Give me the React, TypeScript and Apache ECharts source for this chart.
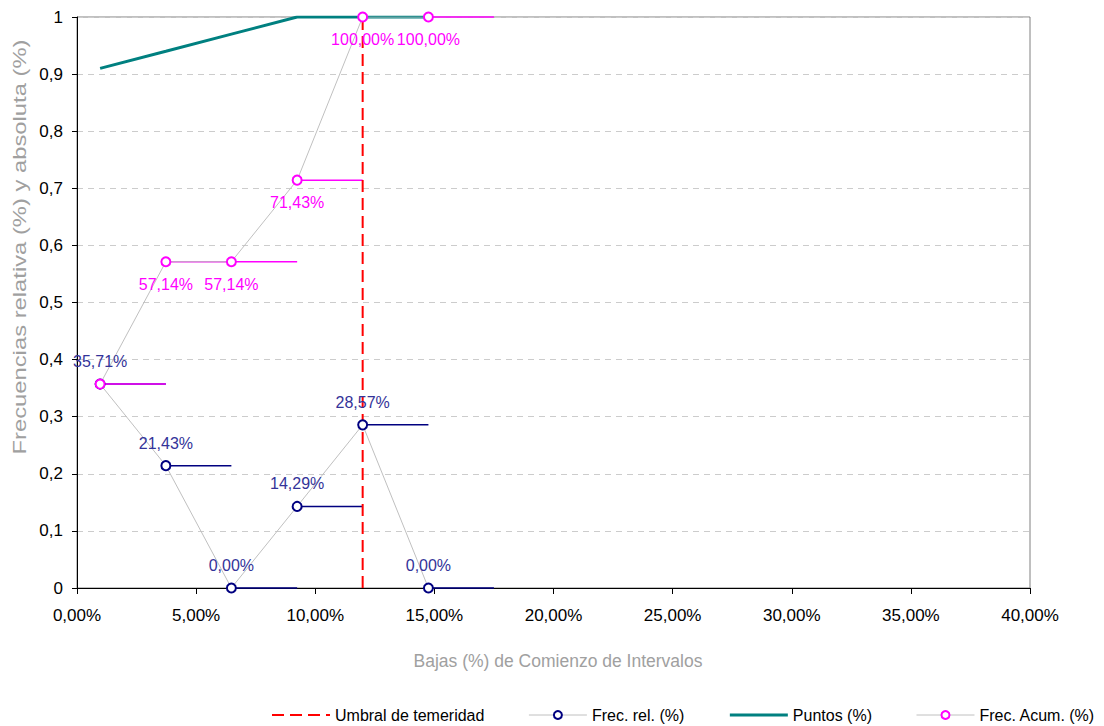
import React, { useEffect, useRef } from 'react';
import * as echarts from 'echarts';

// Interval starts (%), interval ends (%)
const intervalStarts = [0.97, 3.73, 6.48, 9.24, 11.99, 14.75];
const intervalEnds = [3.73, 6.48, 9.24, 11.99, 14.75, 17.5];
const frecRel = [0.3571, 0.2143, 0, 0.1429, 0.2857, 0];
const frecAcum = [0.3571, 0.5714, 0.5714, 0.7143, 1, 1];
const puntos = [0.91, 0.94, 0.97, 1, 1, 1];
const showAcumLabel = [false, true, true, true, true, true];
const umbral = 11.99;

const NAVY = '#000080';
const MAGENTA = '#ff00ff';
const TEAL = '#008080';
const RED = '#ff0000';
const GRAYLINE = '#c0c0c0';
const FONT = '"Liberation Sans", Arial, sans-serif';

const pct = (v: number) => (v * 100).toFixed(2).replace('.', ',') + '%';

export default function App() {
  const ref = useRef<HTMLDivElement>(null);
  useEffect(() => {
    if (!ref.current) return;
    const chart = echarts.init(ref.current, undefined, { renderer: 'svg' });

    const segRender = (color: string) => (params: any, api: any) => {
      const s = api.coord([api.value(0), api.value(1)]);
      const e = api.coord([api.value(2), api.value(1)]);
      return {
        type: 'line',
        shape: { x1: s[0], y1: s[1], x2: e[0], y2: e[1] },
        style: { stroke: color, lineWidth: 1.5 },
      };
    };

    const option: any = {
      animation: false,
      textStyle: { fontFamily: FONT },
      grid: {
        left: 77,
        right: 74,
        top: 17,
        bottom: 138,
        show: true,
        borderColor: '#808080',
        borderWidth: 1,
        containLabel: false,
        outerBoundsMode: 'none',
      },
      legend: {
        left: 271,
        top: 707,
        padding: 0,
        itemWidth: 58,
        itemHeight: 10,
        itemGap: 44,
        textStyle: { fontSize: 16, color: '#000', fontFamily: FONT },
        data: [
          {
            name: 'Umbral de temeridad',
            lineStyle: { color: RED, width: 2, type: [12, 6] },
            itemStyle: { opacity: 0 },
          },
          {
            name: 'Frec. rel. (%)',
            lineStyle: { color: GRAYLINE, width: 1 },
            itemStyle: { color: '#fff', borderColor: NAVY, borderWidth: 2 },
          },
          {
            name: 'Puntos (%)',
            lineStyle: { color: TEAL, width: 3 },
            itemStyle: { opacity: 0 },
          },
          {
            name: 'Frec. Acum. (%)',
            lineStyle: { color: GRAYLINE, width: 1 },
            itemStyle: { color: '#fff', borderColor: MAGENTA, borderWidth: 2 },
          },
        ],
      },
      xAxis: {
        type: 'value',
        min: 0,
        max: 40,
        interval: 5,
        splitLine: { show: false },
        axisLine: { show: true, onZero: false, lineStyle: { color: '#000', width: 1 } },
        axisTick: { show: true, inside: false, length: 6, lineStyle: { color: '#000' } },
        axisLabel: {
          fontSize: 17,
          lineHeight: 17,
          color: '#000',
          margin: 19,
          fontFamily: FONT,
          formatter: (v: number) => v.toFixed(2).replace('.', ',') + '%',
        },
      },
      yAxis: {
        type: 'value',
        min: 0,
        max: 1,
        interval: 0.1,
        splitLine: { show: true, lineStyle: { color: '#cccccc', type: [6, 5], width: 1 } },
        axisLine: { show: true, lineStyle: { color: '#000', width: 1 } },
        axisTick: { show: true, inside: false, length: 5, lineStyle: { color: '#000' } },
        axisLabel: {
          fontSize: 17,
          color: '#000',
          margin: 14,
          fontFamily: FONT,
          formatter: (v: number) =>
            v === 0 ? '0' : Math.abs(v - 1) < 1e-9 ? '1' : v.toFixed(1).replace('.', ','),
        },
      },
      graphic: [
        {
          type: 'text',
          x: 20,
          y: 247,
          rotation: Math.PI / 2,
          scaleX: 1.36,
          style: {
            text: 'Frecuencias relativa (%) y absoluta (%)',
            fontSize: 17.5,
            fontFamily: FONT,
            fill: '#a0a0a0',
            align: 'center',
            verticalAlign: 'middle',
          },
        },
        {
          type: 'text',
          x: 558,
          y: 661,
          style: {
            text: 'Bajas (%) de Comienzo de Intervalos',
            fontSize: 17.5,
            fontFamily: FONT,
            fill: '#a0a0a0',
            align: 'center',
            verticalAlign: 'middle',
          },
        },
      ],
      series: [
        {
          name: 'relSegments',
          type: 'custom',
          z: 1,
          silent: true,
          renderItem: segRender(NAVY),
          encode: { x: [0, 2], y: 1 },
          data: intervalStarts.map((x, i) => [x, frecRel[i], intervalEnds[i]]),
        },
        {
          name: 'acumSegments',
          type: 'custom',
          z: 1,
          silent: true,
          renderItem: segRender(MAGENTA),
          encode: { x: [0, 2], y: 1 },
          data: intervalStarts.map((x, i) => [x, frecAcum[i], intervalEnds[i]]),
        },
        {
          name: 'Umbral de temeridad',
          type: 'line',
          z: 2,
          symbol: 'none',
          lineStyle: { color: RED, width: 2, type: [12, 6] },
          itemStyle: { color: RED },
          data: [
            [umbral, 0],
            [umbral, 1],
          ],
        },
        {
          name: 'Puntos (%)',
          type: 'line',
          z: 2,
          symbol: 'none',
          lineStyle: { color: TEAL, width: 3 },
          itemStyle: { color: TEAL },
          data: intervalStarts.map((x, i) => [x, puntos[i]]),
        },
        {
          name: 'Frec. rel. (%)',
          type: 'line',
          z: 3,
          symbol: 'circle',
          symbolSize: 9,
          lineStyle: { color: GRAYLINE, width: 1 },
          itemStyle: { color: '#ffffff', borderColor: NAVY, borderWidth: 2 },
          label: {
            show: true,
            position: 'top',
            distance: 9,
            color: '#333399',
            fontSize: 16,
            fontFamily: FONT,
            formatter: (p: any) => pct(p.value[1]),
          },
          data: intervalStarts.map((x, i) => [x, frecRel[i]]),
        },
        {
          name: 'Frec. Acum. (%)',
          type: 'line',
          z: 3,
          symbol: 'circle',
          symbolSize: 9,
          lineStyle: { color: GRAYLINE, width: 1 },
          itemStyle: { color: '#ffffff', borderColor: MAGENTA, borderWidth: 2 },
          label: {
            show: true,
            position: 'bottom',
            distance: 9,
            color: MAGENTA,
            fontSize: 16,
            fontFamily: FONT,
            formatter: (p: any) => (showAcumLabel[p.dataIndex] ? pct(p.value[1]) : ''),
          },
          data: intervalStarts.map((x, i) => [x, frecAcum[i]]),
        },
      ],
    };

    chart.setOption(option);
    return () => {
      chart.dispose();
    };
  }, []);

  return (
    <div
      ref={ref}
      style={{ position: 'fixed', left: 0, top: 0, width: 1104, height: 726, background: '#ffffff' }}
    />
  );
}
